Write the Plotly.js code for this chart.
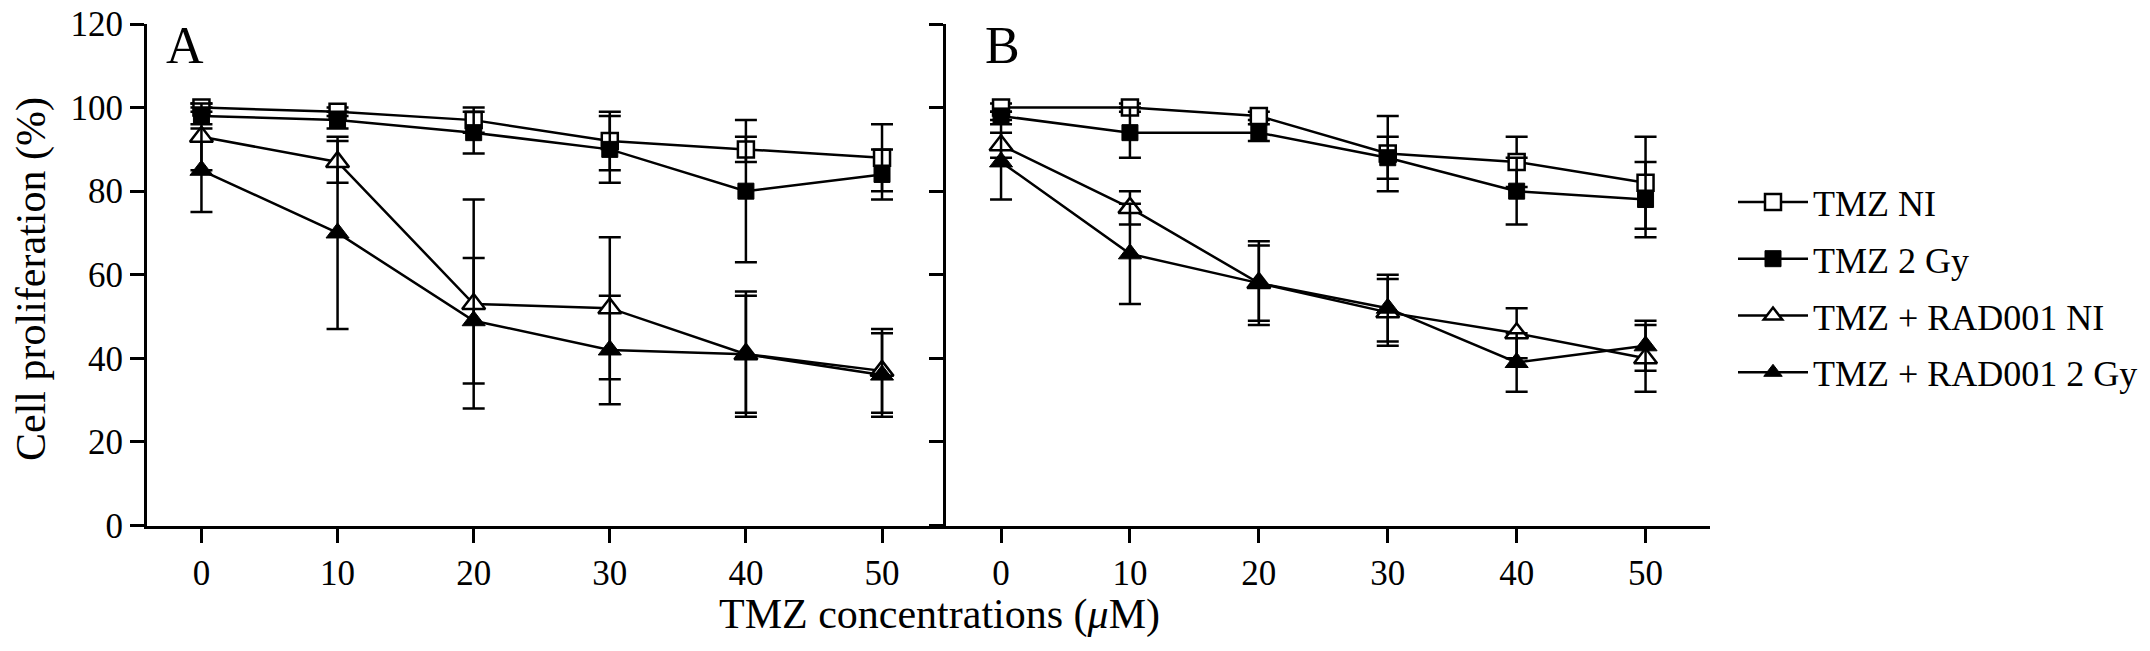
<!DOCTYPE html>
<html>
<head>
<meta charset="utf-8">
<script src="https://cdn.plot.ly/plotly-3.0.1.min.js"></script>
<style>html,body{margin:0;padding:0;background:#fff;} #chart{width:2150px;height:651px;}</style>
</head>
<body>
<div id="chart"></div>
<script>
// TMZ concentrations (µM)
const concentrations = [0, 10, 20, 30, 40, 50];
const seriesNames = ["TMZ NI", "TMZ 2 Gy", "TMZ + RAD001 NI", "TMZ + RAD001 2 Gy"];
const yTicks = [0, 20, 40, 60, 80, 100, 120];
const xTicks = [0, 10, 20, 30, 40, 50];

// Panel A values and error bars
const tmzNI_A      = [100, 99, 97, 92, 90, 88];
const tmzNI_A_err  = [1, 1, 3, 7, 3, 8];
const tmz2Gy_A     = [98, 97, 94, 90, 80, 84];
const tmz2Gy_A_err = [2, 2, 5, 8, 17, 6];
const radNI_A      = [93, 87, 53, 52, 41, 37];
const radNI_A_err  = [8, 5, 25, 17, 15, 10];
const rad2Gy_A     = [85, 70, 49, 42, 41, 36];
const rad2Gy_A_err = [10, 23, 15, 13, 14, 10];

// Panel B values and error bars
const tmzNI_B      = [100, 100, 98, 89, 87, 82];
const tmzNI_B_err  = [1, 1, 1, 9, 6, 11];
const tmz2Gy_B     = [98, 94, 94, 88, 80, 78];
const tmz2Gy_B_err = [1, 6, 2, 5, 8, 9];
const radNI_B      = [91, 76, 58, 51, 46, 40];
const radNI_B_err  = [3, 4, 10, 8, 6, 8];
const rad2Gy_B     = [87, 65, 58, 52, 39, 43];
const rad2Gy_B_err = [9, 12, 9, 8, 7, 6];

const FONT = "Liberation Serif, Times New Roman, serif";
const styles = [
  {symbol: "square", size: 16, color: "#fff", lw: 2.5},
  {symbol: "square", size: 16, color: "#000", lw: 1},
  {symbol: "triangle-up", size: 20, color: "#fff", lw: 2.5},
  {symbol: "triangle-up", size: 20, color: "#000", lw: 1}
];
const panelA = [[tmzNI_A, tmzNI_A_err], [tmz2Gy_A, tmz2Gy_A_err], [radNI_A, radNI_A_err], [rad2Gy_A, rad2Gy_A_err]];
const panelB = [[tmzNI_B, tmzNI_B_err], [tmz2Gy_B, tmz2Gy_B_err], [radNI_B, radNI_B_err], [rad2Gy_B, rad2Gy_B_err]];

function makeTrace(vals, errs, i, xa, ya, showleg) {
  const s = styles[i];
  return {
    x: concentrations, y: vals, xaxis: xa, yaxis: ya,
    type: "scatter", mode: "lines+markers",
    name: seriesNames[i], legendgroup: "g" + i, showlegend: showleg,
    line: {color: "#000", width: 2.5},
    marker: {symbol: s.symbol, size: s.size, color: s.color, line: {color: "#000", width: s.lw}},
    error_y: {type: "data", array: errs, visible: true, color: "#000", thickness: 2.5, width: 11},
    cliponaxis: false
  };
}
const traces = [];
panelA.forEach((p, i) => traces.push(makeTrace(p[0], p[1], i, "x", "y", true)));
panelB.forEach((p, i) => traces.push(makeTrace(p[0], p[1], i, "x2", "y2", false)));

const W = 2150, H = 651;
const axisCommon = {
  showline: true, linecolor: "#000", linewidth: 3, showgrid: false, zeroline: false,
  ticks: "outside", ticklen: 14, tickwidth: 3, tickcolor: "#000",
  tickfont: {family: FONT, size: 35, color: "#000"}, fixedrange: true
};
const yDomain = [(H - 525.5) / H, (H - 24) / H];
const layout = {
  width: W, height: H,
  margin: {l: 0, r: 0, t: 0, b: 0},
  paper_bgcolor: "#fff", plot_bgcolor: "#fff",
  font: {family: FONT, color: "#000"},
  xaxis: Object.assign({}, axisCommon, {domain: [147 / W, 946 / W], range: [-4.0, 54.7], tickvals: xTicks, anchor: "y"}),
  yaxis: Object.assign({}, axisCommon, {domain: yDomain, range: [0, 120], tickvals: yTicks, anchor: "x"}),
  xaxis2: Object.assign({}, axisCommon, {domain: [946 / W, 1710 / W], range: [-4.27, 55.0], tickvals: xTicks, anchor: "y2"}),
  yaxis2: Object.assign({}, axisCommon, {domain: yDomain, range: [0, 120], tickvals: yTicks, anchor: "x2", showticklabels: false}),
  showlegend: true,
  legend: {
    x: 1733 / W, y: (H - 172) / H, xanchor: "left", yanchor: "top",
    font: {family: FONT, size: 36, color: "#000"},
    bgcolor: "rgba(0,0,0,0)", borderwidth: 0,
    tracegroupgap: 7, itemwidth: 70, traceorder: "grouped"
  },
  annotations: [
    {text: "TMZ concentrations (<i>μ</i>M)", xref: "paper", yref: "paper", x: 939 / W, y: (H - 614) / H,
     xanchor: "center", yanchor: "middle", showarrow: false, font: {family: FONT, size: 42, color: "#000"}},
    {text: "Cell proliferation (%)", xref: "paper", yref: "paper", x: 31 / W, y: (H - 279) / H,
     xanchor: "center", yanchor: "middle", textangle: -90, showarrow: false, font: {family: FONT, size: 42, color: "#000"}},
    {text: "A", xref: "paper", yref: "paper", x: 185 / W, y: (H - 45) / H,
     xanchor: "center", yanchor: "middle", showarrow: false, font: {family: FONT, size: 52, color: "#000"}},
    {text: "B", xref: "paper", yref: "paper", x: 1002 / W, y: (H - 45) / H,
     xanchor: "center", yanchor: "middle", showarrow: false, font: {family: FONT, size: 52, color: "#000"}}
  ]
};
Plotly.newPlot("chart", traces, layout, {displayModeBar: false, staticPlot: true});
</script>
</body>
</html>
